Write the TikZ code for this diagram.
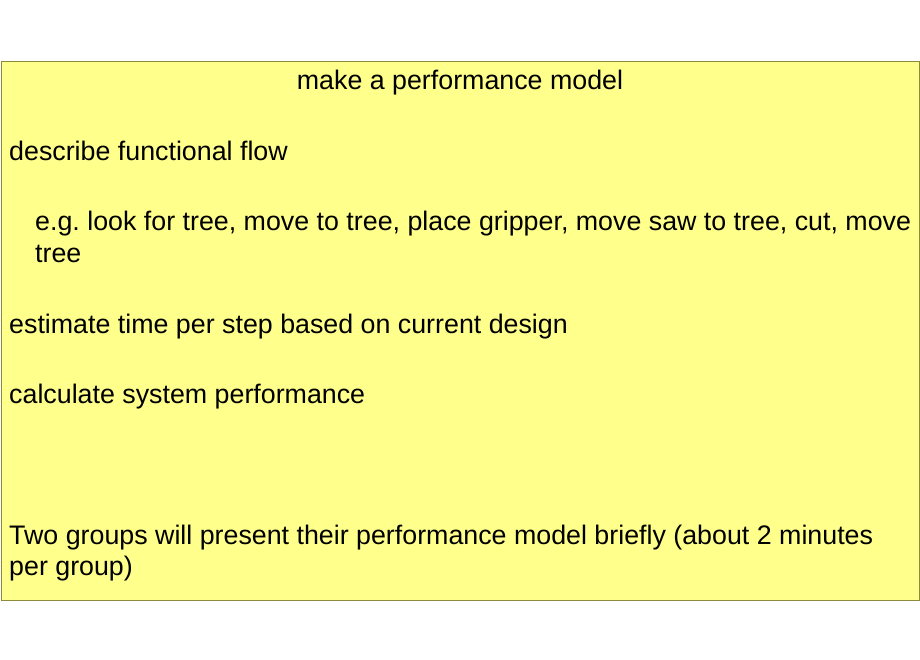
\documentclass[tikz,border=0pt]{standalone}
\usepackage{fontspec}
\setmainfont{Liberation Sans}
\frenchspacing
\definecolor{noteyellow}{HTML}{FFFF8C}
\definecolor{noteedge}{HTML}{8C8C3C}
\tikzset{
  line/.style={anchor=base west, inner sep=0pt, font=\fontsize{26.8}{31}\selectfont},
}
\begin{document}
\begin{tikzpicture}[x=1pt,y=-1pt]
  \useasboundingbox (0,0) rectangle (920,660);
  \draw[noteedge, fill=noteyellow, line width=0.8pt] (1,61) rectangle (919,600);

  \node (title) [line, anchor=base] at (460,90) {make a performance model};
  \node (flow)  [line] at (9,161) {describe functional flow};
  \node (eg)    [line] at (35,231) {e.g. look for tree, move to tree, place gripper, move saw to tree, cut, move};
  \node (eg2)   [line] at (35,262) {tree};
  \node (time)  [line] at (9,333) {estimate time per step based on current design};
  \node (perf)  [line] at (9,403) {calculate system performance};
  \node (groups)[line] at (9,544) {Two groups will present their performance model briefly (about 2 minutes};
  \node (groups2)[line] at (9,575) {per group)};
\end{tikzpicture}
\end{document}
